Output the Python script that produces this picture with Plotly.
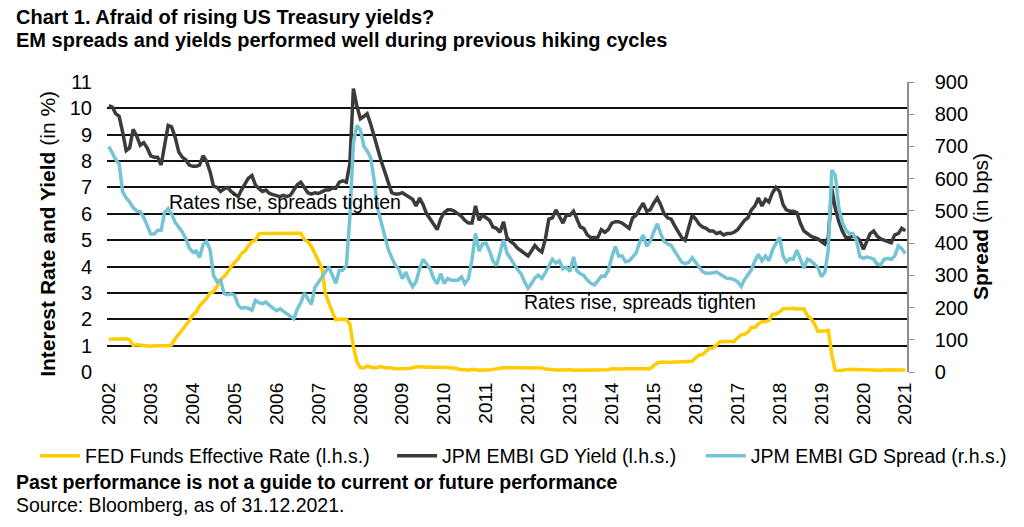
import pandas as pd
import plotly.graph_objects as go

# Monthly observations, Dec 2002 .. Dec 2021 (first value = Dec 2002, then one row per year Jan..Dec)
dates = pd.date_range("2002-12-31", "2021-12-31", freq="ME")

fed_funds = [
    1.24,
    1.24, 1.26, 1.25, 1.26, 1.26, 1.22, 1.01, 1.03, 1.01, 1.01, 1.00, 0.98,
    1.00, 1.01, 1.00, 1.00, 1.00, 1.03, 1.26, 1.43, 1.61, 1.76, 1.93, 2.16,
    2.28, 2.50, 2.63, 2.79, 3.00, 3.04, 3.26, 3.50, 3.62, 3.78, 4.00, 4.16,
    4.29, 4.49, 4.59, 4.79, 4.94, 4.99, 5.24, 5.25, 5.25, 5.25, 5.25, 5.24,
    5.25, 5.26, 5.26, 5.25, 5.25, 5.25, 5.26, 5.02, 4.94, 4.76, 4.49, 4.24,
    3.94, 2.98, 2.61, 2.28, 1.98, 2.00, 2.01, 2.00, 1.81, 0.97, 0.39, 0.16,
    0.15, 0.22, 0.18, 0.15, 0.18, 0.21, 0.16, 0.16, 0.15, 0.12, 0.12, 0.12,
    0.11, 0.13, 0.16, 0.20, 0.20, 0.18, 0.18, 0.19, 0.19, 0.19, 0.19, 0.18,
    0.17, 0.16, 0.14, 0.10, 0.09, 0.09, 0.07, 0.10, 0.08, 0.07, 0.08, 0.07,
    0.08, 0.10, 0.13, 0.14, 0.16, 0.16, 0.16, 0.13, 0.14, 0.16, 0.16, 0.16,
    0.14, 0.15, 0.14, 0.15, 0.11, 0.09, 0.09, 0.08, 0.08, 0.09, 0.08, 0.09,
    0.07, 0.07, 0.08, 0.09, 0.09, 0.10, 0.09, 0.09, 0.09, 0.09, 0.09, 0.12,
    0.11, 0.11, 0.11, 0.12, 0.12, 0.13, 0.13, 0.14, 0.14, 0.12, 0.12, 0.24,
    0.34, 0.38, 0.36, 0.37, 0.37, 0.38, 0.39, 0.40, 0.40, 0.40, 0.41, 0.54,
    0.65, 0.66, 0.79, 0.90, 0.91, 1.04, 1.15, 1.16, 1.15, 1.15, 1.16, 1.30,
    1.41, 1.42, 1.51, 1.69, 1.70, 1.82, 1.91, 1.91, 1.95, 2.19, 2.20, 2.27,
    2.40, 2.40, 2.41, 2.42, 2.39, 2.38, 2.40, 2.13, 2.04, 1.83, 1.55, 1.55,
    1.55, 1.58, 0.65, 0.05, 0.05, 0.08, 0.09, 0.10, 0.09, 0.09, 0.09, 0.09,
    0.09, 0.08, 0.07, 0.07, 0.06, 0.08, 0.10, 0.09, 0.08, 0.08, 0.08, 0.08,
]

embi_yield = [
    10.1,
    10.05, 9.8, 9.7, 9.1, 8.4, 8.5, 9.2, 8.95, 8.6, 8.7, 8.5, 8.2,
    8.15, 8.15, 7.85, 8.6, 9.35, 9.3, 8.9, 8.35, 8.15, 8.05, 7.85, 7.8,
    7.8, 7.85, 8.2, 8.0, 7.6, 7.05, 7.0, 6.85, 6.95, 7.0, 6.85, 6.75,
    6.65, 6.9, 7.1, 7.35, 7.45, 7.1, 6.95, 6.85, 6.9, 6.77, 6.73, 6.7,
    6.65, 6.7, 6.65, 6.7, 6.9, 7.1, 7.2, 7.0, 6.8, 6.75, 6.8, 6.77,
    6.85, 6.9, 6.9, 6.97, 6.97, 7.2, 7.25, 7.2, 7.9, 10.75, 10.1, 9.6,
    9.7, 9.8, 9.4, 8.9, 8.4, 8.0, 7.6, 7.15, 6.8, 6.75, 6.75, 6.8,
    6.7, 6.65, 6.55, 6.3, 6.6, 6.35, 6.0, 5.8, 5.6, 5.4, 5.8, 6.05,
    6.15, 6.15, 6.1, 6.0, 5.9, 5.75, 5.65, 5.65, 6.3, 5.75, 5.95, 5.85,
    5.75, 5.5, 5.45, 5.3, 5.7, 5.1, 4.95, 4.85, 4.7, 4.6, 4.5, 4.4,
    4.6, 4.8, 4.65, 4.55, 5.05, 5.8, 5.85, 6.15, 5.9, 5.65, 5.95, 5.95,
    6.1, 5.8, 5.5, 5.45, 5.2, 5.1, 5.1, 5.1, 5.4, 5.3, 5.4, 5.65,
    5.7, 5.7, 5.65, 5.55, 5.45, 5.85, 5.95, 6.2, 6.4, 6.1, 6.15, 6.4,
    6.6, 6.35, 6.0, 5.85, 5.8, 5.55, 5.3, 5.1, 5.0, 5.5, 5.95, 5.8,
    5.6, 5.5, 5.45, 5.35, 5.35, 5.25, 5.3, 5.2, 5.25, 5.25, 5.3, 5.4,
    5.6, 5.75, 5.85, 6.15, 6.3, 6.6, 6.3, 6.55, 6.45, 6.8, 7.0, 6.85,
    6.35, 6.15, 6.1, 6.1, 6.05, 5.65, 5.35, 5.25, 5.15, 5.1, 5.05, 4.95,
    4.85, 5.1, 6.95, 6.2, 5.7, 5.35, 5.1, 5.1, 5.15, 5.1, 5.0, 4.65,
    5.0, 5.25, 5.35, 5.15, 5.05, 5.0, 4.95, 4.9, 5.2, 5.25, 5.45, 5.35,
]

embi_spread = [
    700,
    677, 660, 645, 560, 540, 528, 510, 500, 497, 480, 455, 428,
    428, 440, 440, 495, 507, 490, 465, 450, 435, 415, 385, 372,
    375, 355, 395, 405, 380, 300, 280, 285, 243, 240, 243, 238,
    207, 198, 200, 198, 192, 222, 215, 212, 217, 207, 200, 190,
    196, 188, 180, 172, 165, 195, 215, 245, 225, 210, 262, 280,
    295, 310, 326, 300, 275, 315, 316, 330, 480, 710, 765, 752,
    700, 686, 665, 595, 507, 465, 420, 380, 355, 331, 320, 290,
    310, 285, 265, 280, 320, 350, 335, 320, 290, 274, 305, 275,
    290, 285, 285, 285, 295, 274, 290, 350, 430, 375, 398, 400,
    375, 345, 330, 370, 410, 370, 350, 335, 318, 305, 280, 260,
    275, 292, 300, 290, 308, 330, 350, 338, 345, 320, 325, 312,
    357, 315, 305, 300, 285, 276, 270, 283, 298, 297, 315, 357,
    390, 360, 360, 342, 345, 357, 370, 403, 425, 390, 405, 435,
    460, 430, 405, 398, 393, 375, 360, 341, 336, 340, 355, 340,
    325, 312, 306, 306, 308, 310, 303, 298, 290, 290, 287, 280,
    265, 286, 303, 317, 345, 365, 345, 360, 345, 379, 399, 418,
    360, 342, 352, 350, 378, 353, 322, 350, 345, 335, 325, 296,
    310, 380, 627, 611, 510, 465, 440, 430, 430, 410, 358, 353,
    357, 354, 350, 335, 333, 350, 353, 350, 360, 392, 383, 368,
]

year_labels = [str(y) for y in range(2002, 2022)]
year_ticks = [pd.Timestamp(f"{y}-12-31") for y in range(2002, 2022)]

left_ticks = list(range(0, 12))
right_ticks = list(range(0, 1000, 100))

FONT = "Liberation Sans, Arial, sans-serif"
YELLOW = "#FFCC00"
DARK = "#3B3B3B"
BLUE = "#74C4D4"

# plot-area geometry (pixels) used to convert positions of text items to paper coords
L, R, T, B = 107, 918, 82, 372
W = R - L
H = B - T


def px(x):
    return (x - L) / W


def py(y):
    return (B - y) / H


fig = go.Figure()
fig.add_trace(go.Scatter(x=dates, y=fed_funds, mode="lines", name="FED Funds Effective Rate (l.h.s.)",
                         line=dict(color=YELLOW, width=3.5), legend="legend"))
fig.add_trace(go.Scatter(x=dates, y=embi_yield, mode="lines", name="JPM EMBI GD Yield (l.h.s.)",
                         line=dict(color=DARK, width=3.5), legend="legend2"))
fig.add_trace(go.Scatter(x=dates, y=embi_spread, mode="lines", name="JPM EMBI GD Spread (r.h.s.)",
                         line=dict(color=BLUE, width=3.5), yaxis="y2", legend="legend3"))

legend_common = dict(orientation="h", yanchor="middle", xanchor="left", y=py(456),
                     font=dict(family=FONT, size=19.5, color="#000"), bgcolor="rgba(0,0,0,0)",
                     borderwidth=0, itemclick=False, itemwidth=40, tracegroupgap=0)

fig.update_layout(
    width=1024, height=527,
    margin=dict(l=L, r=1024 - R, t=T, b=527 - B, pad=0),
    paper_bgcolor="white", plot_bgcolor="white",
    font=dict(family=FONT, size=20, color="#000"),
    showlegend=True,
    legend=dict(x=px(34), **legend_common),
    legend2=dict(x=px(396), **legend_common),
    legend3=dict(x=px(709), **legend_common),
    xaxis=dict(
        type="date", range=["2002-12-15", "2022-01-15"],
        tickvals=year_ticks, ticktext=year_labels, tickangle=-90,
        tickfont=dict(family=FONT, size=19, color="#000"),
        showgrid=False, zeroline=False, showline=False, ticks="",
        ticklabelstandoff=6,
    ),
    yaxis=dict(
        range=[0, 11], tickvals=left_ticks, ticktext=[str(v) for v in left_ticks],
        showgrid=True, gridcolor="#111", gridwidth=1.6, zeroline=False, showline=False,
        ticks="", tickfont=dict(family=FONT, size=20, color="#000"), ticklabelstandoff=14,
    ),
    yaxis2=dict(
        range=[0, 900], tickvals=right_ticks, ticktext=[str(v) for v in right_ticks],
        overlaying="y", side="right", showgrid=False, zeroline=False,
        showline=True, linecolor="#8c8c8c", linewidth=1.5,
        ticks="outside", ticklen=5, tickcolor="#8c8c8c", tickwidth=1.2,
        tickfont=dict(family=FONT, size=20, color="#000"), ticklabelstandoff=17,
    ),
)

annotations = [
    dict(text="<b>Chart 1. Afraid of rising US Treasury yields?</b>", x=px(13), y=py(17),
         font=dict(size=20)),
    dict(text="<b>EM spreads and yields performed well during previous hiking cycles</b>", x=px(13), y=py(40),
         font=dict(size=20)),
    dict(text="<b>Past performance is not a guide to current or future performance</b>", x=px(13), y=py(482),
         font=dict(size=19.5)),
    dict(text="Source: Bloomberg, as of 31.12.2021.", x=px(13), y=py(505), font=dict(size=19.5)),
    dict(text="Rates rise, spreads tighten", x=px(168), y=py(202), font=dict(size=19.5)),
    dict(text="Rates rise, spreads tighten", x=px(528), y=py(302), font=dict(size=19.5)),
]
for a in annotations:
    fig.add_annotation(xref="paper", yref="paper", xanchor="left", yanchor="middle", showarrow=False,
                       align="left", **a)

fig.add_annotation(xref="paper", yref="paper", x=px(47), y=py(234), textangle=-90,
                   text="<b>Interest Rate and Yield</b> (in %)", showarrow=False,
                   xanchor="center", yanchor="middle", font=dict(size=21))
fig.add_annotation(xref="paper", yref="paper", x=px(992), y=py(226), textangle=-90,
                   text="<b>Spread</b> (in bps)", showarrow=False,
                   xanchor="center", yanchor="middle", font=dict(size=21))

fig.write_html("out.html", config={"displayModeBar": False},
               post_script="document.body.style.margin='0px';")
